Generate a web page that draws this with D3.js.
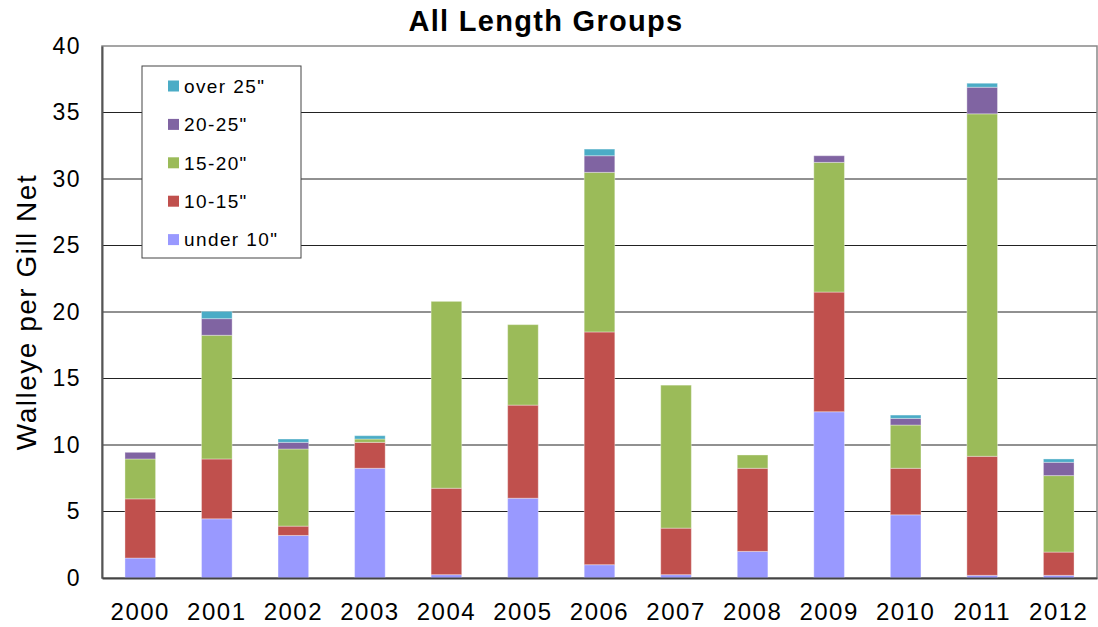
<!DOCTYPE html>
<html>
<head>
<meta charset="utf-8">
<script src="https://cdn.jsdelivr.net/npm/d3@7"></script>
<style>
  body { margin: 0; background: #fff; }
  svg { font-family: "Liberation Sans", Arial, sans-serif; }
</style>
</head>
<body>
<div id="chart"></div>
<script>
// Walleye per gill net, stacked by length group
const years = ['2000', '2001', '2002', '2003', '2004', '2005', '2006', '2007', '2008', '2009', '2010', '2011', '2012'];
const under10 = [1.5, 4.45, 3.2, 8.25, 0.25, 6.0, 1.0, 0.25, 2.0, 12.5, 4.75, 0.2, 0.2];
const len10to15 = [4.45, 4.5, 0.7, 1.95, 6.5, 7.0, 17.5, 3.5, 6.25, 9.0, 3.5, 8.95, 1.75];
const len15to20 = [3.0, 9.3, 5.8, 0.25, 14.05, 6.05, 12.0, 10.75, 1.0, 9.75, 3.25, 25.75, 5.75];
const len20to25 = [0.5, 1.25, 0.5, 0, 0, 0, 1.25, 0, 0, 0.5, 0.5, 2.0, 1.0];
const over25 = [0, 0.55, 0.25, 0.25, 0, 0, 0.5, 0, 0, 0, 0.25, 0.3, 0.25];
const seriesNames = ['under 10"', '10-15"', '15-20"', '20-25"', 'over 25"'];
const colors = ['#9999FF', '#C0504D', '#9BBB59', '#8064A2', '#4BACC6'];
const yTicks = [0, 5, 10, 15, 20, 25, 30, 35, 40];

const width = 1098, height = 627;
const margin = { top: 46, right: 1, bottom: 49, left: 102 };

const svg = d3.select('#chart').append('svg')
    .attr('width', width)
    .attr('height', height);

const x = d3.scaleBand()
    .domain(years)
    .range([margin.left, width - margin.right])
    .paddingInner(0.6)
    .paddingOuter(0.3);

const y = d3.scaleLinear()
    .domain([0, 40])
    .range([height - margin.bottom, margin.top]);

// tabela para o stack
const table = years.map((yr, i) => ({
    year: yr,
    [seriesNames[0]]: under10[i],
    [seriesNames[1]]: len10to15[i],
    [seriesNames[2]]: len15to20[i],
    [seriesNames[3]]: len20to25[i],
    [seriesNames[4]]: over25[i]
}));
const stacked = d3.stack().keys(seriesNames)(table);

// gridlines
svg.append('g')
    .selectAll('line')
    .data(yTicks.filter(t => t > 0 && t < 40))
    .enter()
    .append('line')
    .attr('x1', margin.left)
    .attr('x2', width - margin.right)
    .attr('y1', d => y(d))
    .attr('y2', d => y(d))
    .attr('stroke', '#222')
    .attr('stroke-width', 1);

// plot border
svg.append('rect')
    .attr('x', margin.left)
    .attr('y', margin.top)
    .attr('width', width - margin.right - margin.left)
    .attr('height', height - margin.bottom - margin.top)
    .attr('fill', 'none')
    .attr('stroke', '#888')
    .attr('stroke-width', 1.5);

// bars
svg.append('g')
    .selectAll('g')
    .data(stacked)
    .enter()
    .append('g')
    .attr('fill', (d, i) => colors[i])
    .selectAll('rect')
    .data(d => d.filter(p => p[1] - p[0] > 0))
    .enter()
    .append('rect')
    .attr('x', d => x(d.data.year))
    .attr('width', x.bandwidth())
    .attr('y', d => y(d[1]))
    .attr('height', d => y(d[0]) - y(d[1]))
    .attr('stroke', 'rgba(255,255,255,0.35)')
    .attr('stroke-width', 1);

// axes
const yAxis = d3.axisLeft(y).tickValues(yTicks).tickSize(0).tickPadding(21);
const gy = svg.append('g')
    .attr('transform', `translate(${margin.left},0)`)
    .call(yAxis);
gy.select('.domain').attr('stroke', '#555').attr('stroke-width', 2);
gy.selectAll('text')
    .attr('font-size', '23px')
    .attr('letter-spacing', '1.5px')
    .attr('fill', '#000');

const xAxis = d3.axisBottom(x).tickSize(0).tickPadding(25);
const gx = svg.append('g')
    .attr('transform', `translate(0,${height - margin.bottom})`)
    .call(xAxis);
gx.select('.domain').attr('stroke', '#444').attr('stroke-width', 2);
gx.selectAll('text')
    .attr('font-size', '24px')
    .attr('letter-spacing', '1.5px')
    .attr('fill', '#000');

// title
svg.append('text')
    .attr('x', 546)
    .attr('y', 31)
    .attr('text-anchor', 'middle')
    .attr('font-size', '29px')
    .attr('font-weight', 'bold')
    .attr('letter-spacing', '1.3px')
    .text('All Length Groups');

// y axis title
svg.append('text')
    .attr('transform', `translate(36,${(margin.top + height - margin.bottom) / 2}) rotate(-90)`)
    .attr('text-anchor', 'middle')
    .attr('font-size', '28px')
    .attr('letter-spacing', '1.5px')
    .text('Walleye per Gill Net');

// legenda
const legend = svg.append('g');
legend.append('rect')
    .attr('x', 142)
    .attr('y', 66)
    .attr('width', 159)
    .attr('height', 192)
    .attr('fill', '#fff')
    .attr('stroke', '#444')
    .attr('stroke-width', 1);

const legendOrder = seriesNames.map((n, i) => i).reverse();
const items = legend.selectAll('g.item')
    .data(legendOrder)
    .enter()
    .append('g')
    .attr('class', 'item')
    .attr('transform', (d, k) => `translate(168,${86 + k * 38.4})`);
items.append('rect')
    .attr('x', 0)
    .attr('y', -5.5)
    .attr('width', 11)
    .attr('height', 11)
    .attr('fill', d => colors[d]);
items.append('text')
    .attr('x', 16)
    .attr('y', 0)
    .attr('dy', '0.36em')
    .attr('font-size', '19px')
    .attr('letter-spacing', '1.4px')
    .text(d => seriesNames[d]);
</script>
</body>
</html>
